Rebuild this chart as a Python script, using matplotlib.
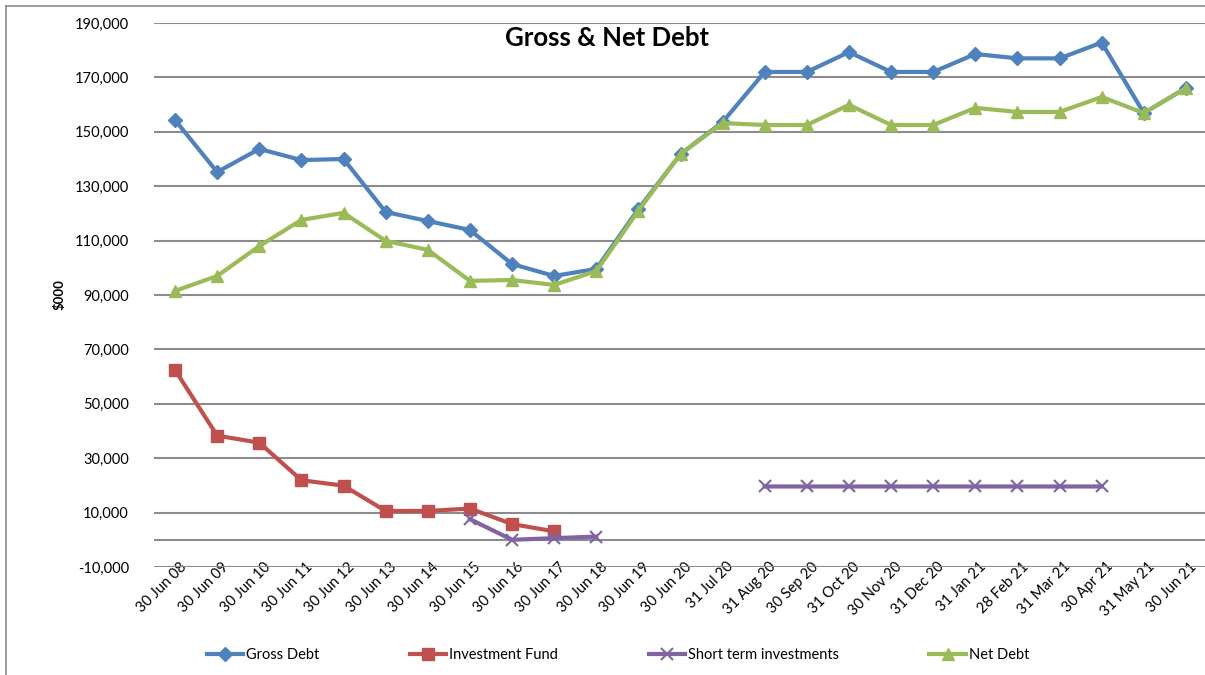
import matplotlib
matplotlib.use("Agg")
import matplotlib.pyplot as plt
from matplotlib.lines import Line2D
import matplotlib.transforms as mtrans
import numpy as np

plt.rcParams['font.family'] = ['Lato', 'DejaVu Sans']

dates = ["30 Jun 08", "30 Jun 09", "30 Jun 10", "30 Jun 11", "30 Jun 12", "30 Jun 13",
         "30 Jun 14", "30 Jun 15", "30 Jun 16", "30 Jun 17", "30 Jun 18", "30 Jun 19",
         "30 Jun 20", "31 Jul 20", "31 Aug 20", "30 Sep 20", "31 Oct 20", "30 Nov 20",
         "31 Dec 20", "31 Jan 21", "28 Feb 21", "31 Mar 21", "30 Apr 21", "31 May 21",
         "30 Jun 21"]

gross_debt = [154300, 135200, 143700, 139600, 140000, 120500, 117200, 113900, 101400,
              97000, 99600, 121600, 141800, 153600, 172000, 172000, 179300, 172000,
              172000, 178600, 177000, 177000, 182800, 156900, 166100]

investment_fund = [62400, 38300, 35700, 21900, 19900, 10600, 10600, 11500, 5800, 3100,
                   None, None, None, None, None, None, None, None, None, None, None,
                   None, None, None, None]

short_term = [None, None, None, None, None, None, None, 7600, 0, 600, 1200,
              None, None, None, 19600, 19600, 19600, 19600, 19600, 19600, 19600,
              19600, 19600, None, None]

net_debt = [91500, 97000, 108000, 117600, 120200, 109900, 106600, 95200, 95500, 93700,
            98800, 121000, 141800, 153200, 152500, 152500, 159900, 152500, 152500,
            158800, 157300, 157300, 162800, 156900, 166100]


def arr(v):
    return np.array([np.nan if a is None else a for a in v], dtype=float)


fig = plt.figure(figsize=(12.05, 6.75), dpi=100)
ax = fig.add_axes([154 / 1205, 108 / 675, 1053 / 1205, 544 / 675])

x = np.arange(len(dates))
ax.plot(x, arr(gross_debt), color='#4F81BD', lw=3, marker='D', ms=7, label='Gross Debt')
ax.plot(x, arr(investment_fund), color='#C0504D', lw=3, marker='s', ms=8, label='Investment Fund')
ax.plot(x, arr(short_term), color='#8064A2', lw=3, marker='x', ms=9, mew=1.5,
        label='Short term investments')
ax.plot(x, arr(net_debt), color='#9BBB59', lw=3, marker='^', ms=9, label='Net Debt')

ax.set_xlim(-0.5, len(dates) - 0.5)
ax.set_ylim(-10000, 190000)
ax.set_yticks(range(-10000, 190001, 20000))
ax.set_yticklabels([f"{v:,}" for v in range(-10000, 190001, 20000)], fontsize=10.5)
ax.yaxis.grid(True, color='#8c8c8c', lw=1.5)
ax.axhline(0, color='#8c8c8c', lw=1.5, zorder=1)
ax.set_axisbelow(True)
for s in ax.spines.values():
    s.set_visible(False)
ax.tick_params(axis='both', length=0, pad=18)
ax.tick_params(axis='x', pad=4)
ax.set_xticks(x)
ax.set_xticklabels(dates, rotation=45, ha='right', rotation_mode='anchor', fontsize=10.5)
shift = mtrans.ScaledTranslation(0.04, 0.13, fig.dpi_scale_trans)
for lbl in ax.get_xticklabels():
    lbl.set_transform(lbl.get_transform() + shift)

ax.set_ylabel('$000', fontsize=9.5, fontweight='bold', labelpad=-3)
ax.yaxis.set_label_coords(-88 / 1053, 0.5)
fig.text(607 / 1205, 1 - 38 / 675, 'Gross & Net Debt', fontsize=18.5, fontweight='bold',
         ha='center', va='center')

fig.legend(loc='center', bbox_to_anchor=(618 / 1205, 1 - 655 / 675), ncol=4, frameon=False,
           fontsize=10.5, columnspacing=6.2, handlelength=2.5, handletextpad=0.2)

# chart border (left and top only visible)
fig.add_artist(Line2D([6 / 1205, 6 / 1205], [0, 1 - 6 / 675], transform=fig.transFigure,
                      color='#8c8c8c', lw=1.2))
fig.add_artist(Line2D([6 / 1205, 1], [1 - 6 / 675, 1 - 6 / 675], transform=fig.transFigure,
                      color='#8c8c8c', lw=1.2))

fig.savefig('out.png', dpi=100)
